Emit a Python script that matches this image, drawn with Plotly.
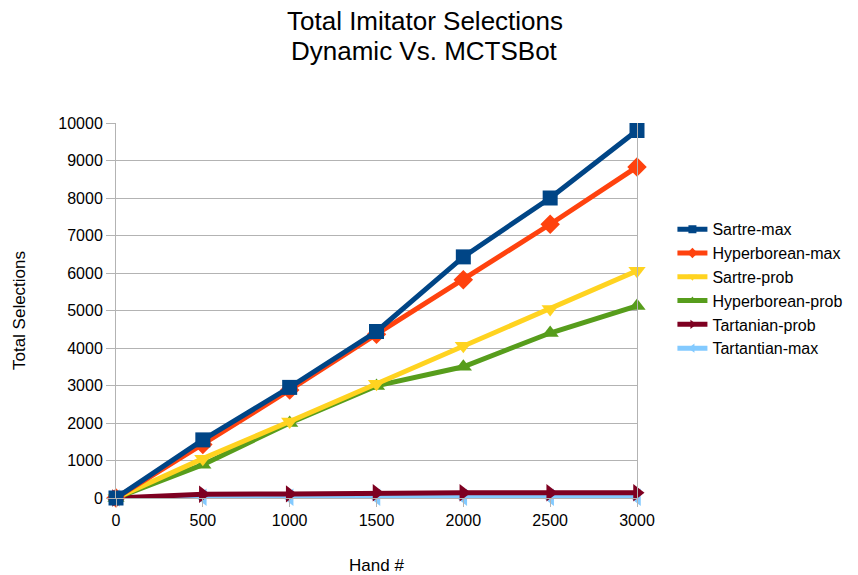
import plotly.graph_objects as go

# Hand numbers at which selections were counted
hands = [0, 500, 1000, 1500, 2000, 2500, 3000]

# Cumulative imitator selections per opponent/strategy
sartre_max = [0, 1550, 2950, 4440, 6430, 8000, 9800]
hyperborean_max = [0, 1430, 2880, 4370, 5820, 7300, 8830]
sartre_prob = [0, 1050, 2040, 3050, 4060, 5040, 6060]
hyperborean_prob = [0, 890, 2000, 2990, 3500, 4400, 5120]
tartanian_prob = [0, 100, 110, 140, 140, 140, 140]
tartantian_max = [0, 20, 20, 20, 20, 20, 20]

y_ticks = list(range(0, 10001, 1000))

title_lines = ["Total Imitator Selections", "Dynamic Vs. MCTSBot"]

series = [
    ("Sartre-max", sartre_max, "#004586", "square"),
    ("Hyperborean-max", hyperborean_max, "#ff420e", "diamond"),
    ("Sartre-prob", sartre_prob, "#ffd320", "triangle-down"),
    ("Hyperborean-prob", hyperborean_prob, "#579d1c", "triangle-up"),
    ("Tartanian-prob", tartanian_prob, "#7e0021", "triangle-right"),
    ("Tartantian-max", tartantian_max, "#83caff", "triangle-left"),
]

fig = go.Figure()
# draw bottom-most series first so the top series overlays them
for name, vals, color, sym in reversed(series):
    fig.add_trace(go.Scatter(
        x=hands, y=vals, name=name, mode="lines+markers",
        line=dict(color=color, width=5),
        marker=dict(symbol=sym, size=15, color=color),
        cliponaxis=False, showlegend=False,
    ))

# legend entries with compact symbols
for name, vals, color, sym in series:
    fig.add_trace(go.Scatter(
        x=[None], y=[None], name=name, mode="lines+markers",
        line=dict(color=color, width=5),
        marker=dict(symbol=sym, size=8, color=color),
        showlegend=True,
    ))

font_main = "Liberation Sans, Arial, sans-serif"
title_font = dict(family="Liberation Sans Narrow, Arial Narrow, sans-serif", size=26, color="#000000")

# two-line chart title, placed as separate lines for tighter spacing
for text, ypos in zip(title_lines, [1.273, 1.193]):
    fig.add_annotation(
        text=text, xref="paper", yref="paper", x=0.593, y=ypos,
        xanchor="center", yanchor="middle", showarrow=False,
        font=title_font,
    )

fig.update_layout(
    width=858, height=575,
    paper_bgcolor="white", plot_bgcolor="white",
    margin=dict(l=116, r=221, t=123, b=77, autoexpand=False),
    font=dict(family=font_main, size=16, color="#000000"),
    legend=dict(
        x=1.068, xanchor="left", y=0.762, yanchor="top",
        font=dict(family=font_main, size=16, color="#000000"),
        itemwidth=30, tracegroupgap=0,
        bgcolor="rgba(0,0,0,0)",
    ),
    showlegend=True,
)

fig.update_xaxes(
    range=[0, 3000], tickvals=hands, ticktext=[str(h) for h in hands],
    showgrid=False, zeroline=False,
    ticks="outside", ticklen=8, tickcolor="#b3b3b3",
    showline=True, linecolor="#b3b3b3", linewidth=1,
    title=dict(text="Hand #", font=dict(size=17), standoff=34),
    tickfont=dict(size=16),
)
fig.update_yaxes(
    range=[0, 10000], tickvals=y_ticks, ticktext=[str(v) for v in y_ticks],
    showgrid=True, gridcolor="#b3b3b3", gridwidth=1,
    zeroline=False,
    ticks="outside", ticklen=9, tickcolor="#b3b3b3",
    showline=True, mirror=True, linecolor="#b3b3b3", linewidth=1,
    title=dict(text="Total Selections", font=dict(size=17), standoff=28),
    tickfont=dict(size=16),
)

fig.write_html("out.html")
